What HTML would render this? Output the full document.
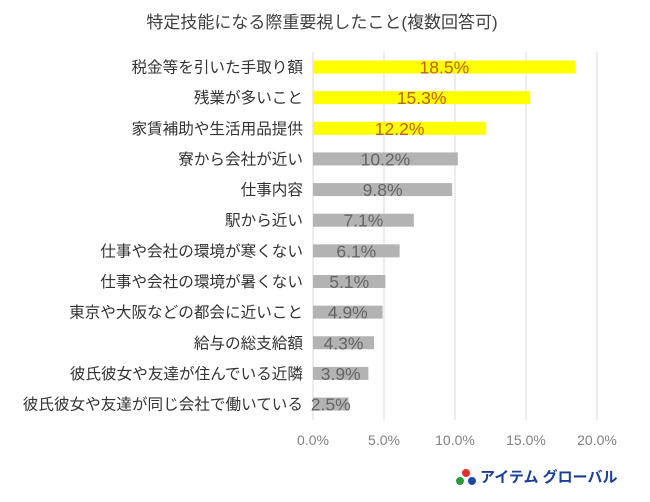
<!DOCTYPE html>
<html><head><meta charset="utf-8"><style>
body{margin:0;background:#fff;width:650px;height:497px;overflow:hidden;font-family:"Liberation Sans","Noto Sans CJK JP",sans-serif}
</style></head><body>
<svg id="c" width="650" height="497" style="font-family:'Liberation Sans','Noto Sans CJK JP',sans-serif">
<text x="322" y="28" text-anchor="middle" font-size="17" fill="#404040">特定技能になる際重要視したこと(複数回答可)</text>
<g id="grid"></g><g id="bars"></g>
<g>
<circle cx="466" cy="473" r="4" fill="#e0302a"/><circle cx="460" cy="481" r="4" fill="#2a9a3a"/><circle cx="472" cy="481" r="4" fill="#1a4aa8"/>
<text x="480" y="482" font-size="15" font-weight="bold" fill="#1a3f9a">アイテム グローバル</text>
</g>
</svg>
<script>
const categories=["税金等を引いた手取り額","残業が多いこと","家賃補助や生活用品提供","寮から会社が近い","仕事内容","駅から近い","仕事や会社の環境が寒くない","仕事や会社の環境が暑くない","東京や大阪などの都会に近いこと","給与の総支給額","彼氏彼女や友達が住んでいる近隣","彼氏彼女や友達が同じ会社で働いている"];
const values=[18.5,15.3,12.2,10.2,9.8,7.1,6.1,5.1,4.9,4.3,3.9,2.5];
const ticks=[0,5,10,15,20];
const highlighted=[true,true,true,false,false,false,false,false,false,false,false,false];
const NS="http://www.w3.org/2000/svg";
const x=v=>313+v*14.2, y=i=>67+i*30.64;
function mk(t,a,p){const e=document.createElementNS(NS,t);for(const k in a)e.setAttribute(k,a[k]);p.appendChild(e);return e;}
const g=document.getElementById('grid'), b=document.getElementById('bars');
ticks.forEach(t=>{
 const l=mk('line',{x1:x(t),x2:x(t),y1:52,y2:420,stroke:'#d9d9d9','stroke-width':1},g);
 
 
 const tx=mk('text',{x:x(t),y:445,'text-anchor':'middle','font-size':14,fill:'#808080'},g);
 tx.textContent=t.toFixed(1)+'%';
 
 
});
categories.forEach((c,i)=>{
 const r=mk('rect',{x:x(0),y:y(i)-6.5,width:x(values[i])-x(0),height:13,fill:highlighted[i]?'#ffff00':'#b3b3b3'},b);
 
 
 const l=mk('text',{x:303,y:y(i)+5.5,'text-anchor':'end','font-size':15.6,fill:'#333'},b);
 l.textContent=c;
 
 
 const v=mk('text',{x:(x(0)+x(values[i]))/2,y:y(i)+6.5,'text-anchor':'middle','font-size':17.5,fill:highlighted[i]?'#c0601a':'#666'},b);
 v.textContent=values[i].toFixed(1)+'%';
 
 
});
</script>
</body></html>
